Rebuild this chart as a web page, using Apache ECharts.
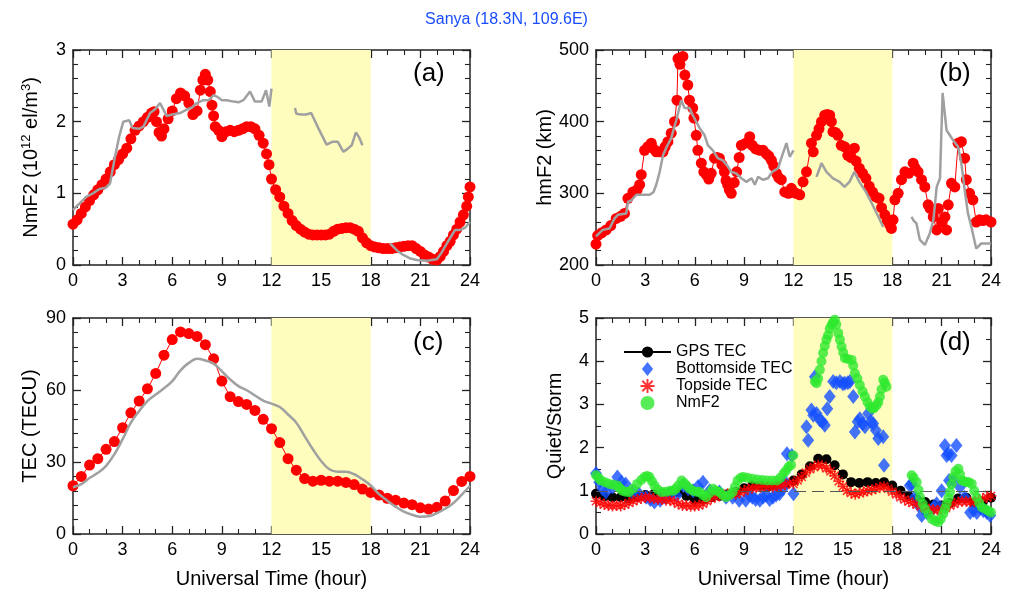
<!DOCTYPE html>
<html><head><meta charset="utf-8">
<script src="https://cdn.jsdelivr.net/npm/echarts@6/dist/echarts.min.js"></script>
<style>html,body{margin:0;padding:0;background:#fff}#c{width:1013px;height:594px}</style>
</head><body><div id="c"></div>
<script>
// ---------- DATA ----------
const titleText = 'Sanya (18.3N, 109.6E)';
const xAxisTitle = 'Universal Time (hour)';
const panelLabels = ['(a)', '(b)', '(c)', '(d)'];
const legendNames = ['GPS TEC', 'Bottomside TEC', 'Topside TEC', 'NmF2'];

// (a) NmF2, storm day (red dots) [hour, 1e12 el/m3]
const stormNmF2 = [[0,0.57],[0.25,0.63],[0.5,0.72],[0.75,0.81],[1,0.9],[1.25,0.98],[1.5,1.05],[1.75,1.12],[2,1.2],[2.25,1.3],[2.5,1.4],[2.75,1.47],[3,1.55],[3.25,1.63],[3.5,1.76],[3.75,1.88],[4,1.94],[4.25,2.0],[4.5,2.06],[4.75,2.12],[4.9,2.14],[5.05,2.0],[5.2,1.85],[5.35,1.8],[5.5,1.9],[5.75,2.04],[6,2.15],[6.25,2.32],[6.5,2.4],[6.75,2.36],[7,2.26],[7.25,2.1],[7.5,2.15],[7.7,2.44],[7.85,2.58],[8,2.66],[8.15,2.58],[8.3,2.42],[8.4,2.23],[8.5,2.08],[8.6,1.93],[8.8,1.88],[9,1.79],[9.25,1.86],[9.5,1.88],[9.75,1.86],[10,1.88],[10.25,1.9],[10.5,1.93],[10.75,1.93],[11,1.9],[11.25,1.81],[11.5,1.7],[11.7,1.55],[11.85,1.4],[12,1.2],[12.25,1.05],[12.5,0.95],[12.75,0.82],[13,0.72],[13.25,0.62],[13.5,0.55],[13.75,0.5],[14,0.46],[14.25,0.43],[14.5,0.42],[14.75,0.42],[15,0.42],[15.25,0.42],[15.5,0.43],[15.75,0.47],[16,0.5],[16.25,0.51],[16.5,0.52],[16.75,0.52],[17,0.5],[17.25,0.47],[17.5,0.38],[17.75,0.31],[18,0.27],[18.25,0.25],[18.5,0.24],[18.75,0.23],[19,0.23],[19.25,0.23],[19.5,0.24],[19.75,0.25],[20,0.26],[20.25,0.27],[20.5,0.27],[20.75,0.23],[21,0.19],[21.25,0.14],[21.5,0.11],[21.75,0.08],[22,0.07],[22.2,0.12],[22.4,0.19],[22.6,0.27],[22.8,0.33],[23,0.42],[23.2,0.5],[23.4,0.6],[23.6,0.7],[23.8,0.82],[23.9,0.95],[24,1.09]];
// (a) NmF2, quiet reference (grey line); null = data gap
const quietNmF2 = [[0,0.77],[0.4,0.86],[0.8,0.95],[1.2,1.0],[1.6,1.06],[2,1.08],[2.24,1.14],[2.54,1.51],[2.8,1.8],[3.04,2.0],[3.4,2.02],[3.6,1.91],[4,1.9],[4.25,1.93],[4.66,2.12],[5,2.18],[5.26,2.26],[5.66,2.08],[6,2.1],[6.47,2.12],[6.9,2.17],[7.2,2.2],[7.48,2.26],[7.88,2.3],[8.2,2.3],[8.5,2.37],[8.69,2.35],[9,2.3],[9.3,2.3],[9.7,2.28],[10,2.27],[10.3,2.3],[10.7,2.42],[11,2.28],[11.4,2.28],[11.67,2.44],[11.87,2.21],[12,2.46],null,[13.42,2.19],[13.5,2.11],[13.8,2.1],[14.1,2.1],[14.4,2.12],[14.83,1.91],[15.33,1.68],[15.7,1.72],[16,1.72],[16.35,1.58],[16.6,1.62],[16.85,1.67],[17.1,1.85],[17.3,1.78],[17.5,1.67],null,[19.17,0.3],[19.6,0.2],[19.97,0.14],[20.4,0.09],[20.78,0.07],[21.4,0.06],[22,0.08],[22.3,0.18],[22.6,0.3],[23.1,0.49],[23.4,0.49],[23.7,0.52],[24,0.6]];

// (b) hmF2 storm (red) [hour, km]
const stormHmF2 = [[0,229],[0.1,241],[0.35,245],[0.62,249],[0.9,255],[1.23,265],[1.5,268],[1.73,272],[1.94,293],[2.24,302],[2.5,305],[2.65,312],[2.75,326],[2.95,360],[3.15,365],[3.36,370],[3.5,362],[3.66,358],[3.85,358],[4.07,358],[4.2,365],[4.37,372],[4.57,384],[4.77,400],[4.92,430],[4.98,488],[5.1,480],[5.28,491],[5.4,465],[5.58,451],[5.68,430],[5.88,419],[5.95,405],[6.09,381],[6.19,360],[6.4,342],[6.55,330],[6.7,326],[6.85,320],[7.0,328],[7.2,349],[7.35,350],[7.5,349],[7.65,340],[7.8,330],[7.9,318],[8.0,312],[8.1,305],[8.22,300],[8.4,315],[8.55,330],[8.7,350],[8.83,367],[9.1,370],[9.34,379],[9.5,367],[9.7,362],[9.95,360],[10.15,360],[10.35,355],[10.5,352],[10.66,346],[10.8,338],[10.96,328],[11.1,322],[11.26,319],[11.47,302],[11.7,300],[11.87,307],[12.0,302],[12.15,300],[12.38,298],[12.58,316],[12.79,330],[13.09,370],[13.2,358],[13.4,381],[13.55,390],[13.7,400],[13.9,409],[14.05,410],[14.2,409],[14.3,400],[14.4,386],[14.55,385],[14.7,381],[14.9,367],[15.1,365],[15.3,353],[15.5,350],[15.7,363],[15.8,345],[16.0,335],[16.2,328],[16.4,321],[16.6,310],[16.8,302],[17.0,295],[17.2,293],[17.35,280],[17.55,270],[17.7,262],[17.85,256],[17.95,251],[18.05,263],[18.16,291],[18.36,300],[18.56,319],[18.77,330],[19.0,328],[19.27,342],[19.4,335],[19.57,330],[19.78,319],[19.98,309],[20.18,284],[20.3,279],[20.49,267],[20.7,249],[20.8,279],[21.0,260],[21.2,267],[21.3,249],[21.4,284],[21.6,314],[21.8,309],[22.0,370],[22.2,372],[22.4,349],[22.5,319],[22.7,300],[22.9,291],[23.1,260],[23.3,263],[23.5,262],[23.7,263],[24.0,260]];
// (b) hmF2 quiet (grey)
const quietHmF2 = [[0,240],[0.41,249],[0.82,251],[1.13,265],[1.33,270],[1.84,272],[1.94,288],[2.14,290],[2.45,298],[2.75,298],[3.26,298],[3.5,302],[3.66,312],[3.87,330],[4.07,353],[4.3,365],[4.57,377],[4.88,402],[5.18,430],[5.38,419],[5.68,419],[5.88,409],[6.0,407],[6.3,391],[6.6,381],[6.8,367],[7.1,360],[7.4,349],[7.7,346],[8.0,338],[8.22,330],[8.5,328],[8.83,321],[9.14,316],[9.45,321],[9.65,312],[9.85,323],[10.15,319],[10.45,321],[10.71,330],[11.06,335],[11.26,349],[11.57,370],[11.77,351],[12.0,360],null,[13.4,323],[13.7,342],[14.0,330],[14.4,321],[14.8,316],[15.1,309],[15.4,316],[15.7,330],[16.0,316],[16.4,302],[16.8,284],[17.1,270],[17.45,253],null,[19.17,267],[19.3,262],[19.47,258],[19.68,235],[19.98,228],[20.28,244],[20.5,263],[20.7,309],[20.9,321],[21.06,440],[21.3,388],[21.5,381],[21.7,374],[22.0,365],[22.2,342],[22.4,305],[22.6,272],[22.8,254],[23.1,223],[23.4,230],[24,230]];

// (c) TEC, half-hourly
const tecHours = [0,0.5,1,1.5,2,2.5,3,3.5,4,4.5,5,5.5,6,6.5,7,7.5,8,8.5,9,9.5,10,10.5,11,11.5,12,12.5,13,13.5,14,14.5,15,15.5,16,16.5,17,17.5,18,18.5,19,19.5,20,20.5,21,21.5,22,22.5,23,23.5,24];
const stormTEC = [20.1,24,28.7,31.4,35.3,38.5,44.3,50.5,55.4,60.5,66.9,74.5,81,84.2,83.5,82.3,78.9,73,63.7,57.2,55.2,54,51.5,47.8,43.9,38.1,31.4,26.6,23.1,22,22.4,22,22,21.5,20.6,18.7,17.3,16.2,14.9,14.1,12.9,12.2,10.9,10.4,11.1,13.7,18.1,21.9,24];
const quietTEC = [19.5,20.8,23.3,25.5,28.4,33.2,39.5,46.4,51.2,55.4,58.1,60.7,63.7,68.2,71.3,73,72.3,71,67.8,64.4,61.6,59.9,57.7,55.6,54.3,52.9,49.8,46.4,40.8,35.3,30.4,27,25.9,25.9,24.9,22.8,20.2,16.6,13.9,11.4,9.3,8,7.2,7.4,8.7,10.5,12.9,16.4,20.1];

// (d) Quiet/Storm ratios
const ratioGPS = [0.93,0.87,0.85,0.85,0.83,0.86,0.9,0.92,0.93,0.95,0.97,0.88,0.79,0.8,0.85,0.88,0.92,0.97,1.06,1.12,1.12,1.1,1.12,1.16,1.24,1.38,1.57,1.74,1.73,1.59,1.38,1.2,1.18,1.2,1.18,1.2,1.12,1.0,0.88,0.8,0.74,0.68,0.66,0.72,0.82,0.84,0.72,0.74,0.84];
const topHours = [0,0.25,0.5,0.75,1,1.25,1.5,1.75,2,2.25,2.5,2.75,3,3.25,3.5,3.75,4,4.25,4.5,4.75,5,5.25,5.5,5.75,6,6.25,6.5,6.75,7,7.25,7.5,7.75,8,8.25,8.5,8.75,9,9.25,9.5,9.75,10,10.25,10.5,10.75,11,11.25,11.5,11.75,12,12.25,12.5,12.75,13,13.25,13.5,13.75,14,14.25,14.5,14.75,15,15.25,15.5,15.75,16,16.25,16.5,16.75,17,17.25,17.5,17.75,18,18.25,18.5,18.75,19,19.25,19.5,19.75,20,20.25,20.5,20.75,21,21.25,21.5,21.75,22,22.25,22.5,22.75,23,23.25,23.5,23.75,24];
const ratioTop = [0.76,0.72,0.68,0.66,0.65,0.66,0.65,0.68,0.72,0.76,0.8,0.82,0.85,0.84,0.82,0.8,0.8,0.78,0.78,0.75,0.7,0.66,0.66,0.64,0.65,0.66,0.7,0.76,0.82,0.86,0.88,0.9,0.93,0.93,0.92,0.96,1.0,1.04,1.06,1.08,1.08,1.1,1.1,1.08,1.1,1.12,1.14,1.18,1.16,1.24,1.32,1.42,1.5,1.55,1.6,1.58,1.52,1.45,1.35,1.22,1.1,1.0,0.95,0.92,0.95,0.97,1.0,1.02,1.05,1.08,1.1,1.05,0.98,0.92,0.85,0.8,0.75,0.72,0.68,0.64,0.6,0.58,0.56,0.55,0.56,0.6,0.66,0.7,0.74,0.76,0.75,0.74,0.75,0.78,0.82,0.85,0.88];
const ratioBottom = [[0,1.4],[0.2,1.2],[0.4,1.05],[0.6,0.97],[1.0,1.09],[1.3,1.32],[1.55,1.2],[1.8,1.16],[2.2,0.97],[2.6,0.93],[3.05,0.85],[3.3,0.8],[3.55,0.74],[3.9,0.78],[4.2,0.85],[4.5,0.93],[4.9,0.89],[5.3,1.12],[5.6,1.05],[5.9,1.0],[6.2,1.1],[6.5,1.2],[6.9,1.0],[7.2,0.95],[7.5,0.97],[7.9,0.85],[8.3,0.85],[8.7,0.78],[9.1,0.78],[9.3,0.9],[9.5,0.85],[9.7,0.8],[9.95,0.78],[10.15,0.85],[10.35,0.89],[10.55,0.8],[10.75,0.85],[10.95,0.9],[11.15,0.93],[11.35,1.05],[11.5,1.2],[11.6,1.86],[11.9,1.82],[12.0,0.93],[12.79,2.48],[12.89,2.17],[13.09,2.87],[13.2,2.75],[13.3,3.64],[13.4,2.79],[13.6,2.64],[13.75,2.6],[13.9,2.52],[14.05,2.9],[14.2,3.18],[14.41,3.53],[14.6,3.5],[14.82,3.53],[15.0,3.48],[15.12,3.49],[15.3,3.5],[15.43,3.53],[15.63,3.18],[15.73,2.36],[15.9,2.6],[16.03,2.67],[16.2,2.55],[16.34,2.48],[16.54,2.79],[16.7,2.6],[16.84,2.56],[17.0,2.4],[17.15,2.21],[17.45,2.25],[17.5,1.59],[19.07,1.12],[19.18,1.16],[19.38,0.85],[19.6,0.66],[19.79,0.43],[20.09,0.5],[20.29,0.54],[20.5,0.6],[20.7,0.7],[21.0,1.0],[21.2,2.05],[21.3,1.82],[21.41,1.86],[21.45,1.24],[21.6,1.82],[21.7,1.24],[21.9,2.05],[22.12,1.09],[22.4,0.85],[22.73,0.5],[22.95,0.55],[23.14,0.5],[23.35,0.6],[23.54,0.54],[23.75,0.5],[23.95,0.43]];
const ratioNmF2 = [[0,1.36],[0.15,1.3],[0.3,1.24],[0.55,1.2],[0.8,1.16],[1.05,1.14],[1.3,1.12],[1.45,1.06],[1.6,1.0],[1.8,0.98],[2.0,0.97],[2.25,1.05],[2.5,1.16],[2.75,1.25],[2.95,1.32],[3.1,1.34],[3.25,1.32],[3.4,1.22],[3.55,1.12],[3.75,1.03],[4.0,0.97],[4.25,0.98],[4.5,1.0],[4.7,1.0],[4.85,1.05],[5.0,1.12],[5.2,1.24],[5.35,1.18],[5.5,1.12],[5.7,1.05],[5.9,1.0],[6.1,0.98],[6.3,0.97],[6.5,0.9],[6.7,0.85],[6.9,0.95],[7.1,1.05],[7.3,1.0],[7.5,0.97],[7.7,0.9],[7.9,0.85],[8.1,0.9],[8.3,0.97],[8.45,1.1],[8.6,1.24],[8.8,1.3],[8.95,1.32],[9.2,1.3],[9.5,1.28],[9.8,1.26],[10.1,1.25],[10.4,1.24],[10.7,1.24],[11.0,1.24],[11.2,1.3],[11.4,1.4],[11.55,1.47],[11.7,1.55],[11.85,1.6],[11.98,1.82],[13.3,3.53],[13.4,3.49],[13.5,3.6],[13.6,3.8],[13.7,4.0],[13.8,4.19],[13.9,4.35],[14.0,4.5],[14.1,4.6],[14.2,4.75],[14.31,4.84],[14.4,4.9],[14.51,4.96],[14.6,4.85],[14.72,4.65],[14.82,4.5],[14.92,4.34],[15.02,4.2],[15.12,4.07],[15.3,4.05],[15.53,4.03],[15.63,3.9],[15.73,3.72],[15.88,3.6],[16.03,3.45],[16.2,3.3],[16.34,3.18],[16.5,3.05],[16.64,2.95],[16.8,2.9],[16.9,2.92],[17.05,2.98],[17.15,3.05],[17.25,3.18],[17.35,3.35],[17.45,3.57],[17.55,3.5],[17.65,3.41],[19.18,1.36],[19.3,1.3],[19.48,1.2],[19.6,1.02],[19.69,0.85],[19.85,0.7],[19.99,0.58],[20.2,0.45],[20.4,0.35],[20.6,0.3],[20.8,0.27],[20.95,0.35],[21.1,0.47],[21.2,0.58],[21.31,0.7],[21.41,0.83],[21.51,0.97],[21.61,1.15],[21.71,1.32],[21.85,1.45],[22.02,1.51],[22.12,1.38],[22.22,1.24],[22.35,1.22],[22.52,1.2],[22.65,1.2],[22.83,1.16],[22.98,1.0],[23.13,0.85],[23.28,0.72],[23.44,0.62],[23.64,0.58],[23.84,0.54],[24,0.5]];

// axis ranges [min, max, interval, minor splits]
const yRanges = [[0,3,1,5],[200,500,100,5],[0,90,30,5],[0,5,1,2]];
const stormWindow = [12, 18];

// ---------- CHART ----------
const FONT = '"Liberation Sans", Arial, Helvetica, sans-serif';
const RED = '#ff0000', GREY = '#a0a0a0', BLUE = '#1450ff', GREEN = '#2ee82e';
const ASTERISK = 'path://M8.6 0L11.4 0L11.4 20L8.6 20Z M0 8.6L20 8.6L20 11.4L0 11.4Z M1.6 3.6L3.6 1.6L18.4 16.4L16.4 18.4Z M16.4 1.6L18.4 3.6L3.6 18.4L1.6 16.4Z';
const DIAMOND = 'path://M6 0L12 7.5L6 15L0 7.5Z';

const grids = [
  {left:73, top:50, width:397, height:215},
  {left:596, top:50, width:395, height:215},
  {left:73, top:318, width:397, height:216},
  {left:596, top:318, width:395, height:216}
];
const axisColor = '#222';
function xAx(g, pos, label){
  return {type:'value', gridIndex:g, position:pos, min:0, max:24, interval:3,
    splitLine:{show:false},
    axisLine:{onZero:false, lineStyle:{color:axisColor, width:1.5}},
    axisTick:{inside:true, length:8, lineStyle:{color:axisColor, width:1.3}},
    minorTick:{show:true, splitNumber:3, length:5, lineStyle:{color:axisColor, width:1.1}},
    axisLabel:{show:label, fontSize:18, color:'#000', fontFamily:FONT, margin:7},
    name: (label && g>=2) ? xAxisTitle : '', nameLocation:'middle', nameGap:35,
    nameTextStyle:{fontSize:20, color:'#000', fontFamily:FONT}};
}
const yNames = ['NmF2 (10{s|12} el/m{s|3})', 'hmF2 (km)', 'TEC (TECU)', 'Quiet/Storm'];
const yGaps = [30, 38, 33, 31];
function yAx(g, pos, label){
  const r = yRanges[g];
  return {type:'value', gridIndex:g, position:pos, min:r[0], max:r[1], interval:r[2],
    splitLine:{show:false},
    axisLine:{onZero:false, lineStyle:{color:axisColor, width:1.5}},
    axisTick:{inside:true, length:8, lineStyle:{color:axisColor, width:1.3}},
    minorTick:{show:true, splitNumber:r[3], length:5, lineStyle:{color:axisColor, width:1.1}},
    axisLabel:{show:label, fontSize:18, color:'#000', fontFamily:FONT, margin:7},
    name: label ? yNames[g] : '', nameLocation:'middle', nameGap:yGaps[g], nameRotate:90,
    nameTextStyle:{fontSize:20, color:'#000', fontFamily:FONT,
      rich:{s:{fontSize:13, fontFamily:FONT, color:'#000', padding:[0,0,10,0]}}}};
}
const xAxis = [], yAxis = [];
for (let g=0; g<4; g++){
  xAxis.push(xAx(g,'bottom',true)); xAxis.push(xAx(g,'top',false));
  yAxis.push(yAx(g,'left',true)); yAxis.push(yAx(g,'right',false));
}

function segments(arr){
  const out=[]; let cur=[];
  arr.forEach(p=>{ if(p===null){ if(cur.length) out.push(cur); cur=[]; } else cur.push(p); });
  if(cur.length) out.push(cur);
  return out;
}
const series = [];
// yellow storm window
for (let g=0; g<4; g++){
  series.push({type:'line', xAxisIndex:2*g, yAxisIndex:2*g, data:[[stormWindow[0], yRanges[g][0]]],
    symbol:'none', silent:true, z:0, lineStyle:{opacity:0},
    markArea:{silent:true, itemStyle:{color:'#fffdbe'}, data:[[{xAxis:stormWindow[0]},{xAxis:stormWindow[1]}]]}});
}
function greyLine(g, arr, smooth){
  segments(arr).forEach(seg=>{
    series.push({type:'line', xAxisIndex:2*g, yAxisIndex:2*g, data:seg, symbol:'none', smooth:smooth||false,
      z:4, silent:true, lineStyle:{color:GREY, width:2.5}});
  });
}
function redDots(g, arr, size){
  series.push({type:'line', xAxisIndex:2*g, yAxisIndex:2*g, data:arr, symbol:'circle', symbolSize:size,
    showAllSymbol:true, z:3, silent:true, lineStyle:{color:RED, width:1}, itemStyle:{color:RED}});
}
redDots(0, stormNmF2, 11);
greyLine(0, quietNmF2);
redDots(1, stormHmF2, 11);
greyLine(1, quietHmF2);
redDots(2, tecHours.map((h,i)=>[h, stormTEC[i]]), 11);
greyLine(2, tecHours.map((h,i)=>[h, quietTEC[i]]), 0.4);

// panel d
series.push({name:legendNames[0], type:'line', xAxisIndex:6, yAxisIndex:6,
  data: tecHours.map((h,i)=>[h, ratioGPS[i]]), symbol:'circle', symbolSize:10, showAllSymbol:true,
  z:2, silent:true, lineStyle:{color:'#000', width:1}, itemStyle:{color:'#000'}});
series.push({name:legendNames[1], type:'scatter', xAxisIndex:6, yAxisIndex:6, data:ratioBottom,
  symbol:DIAMOND, symbolSize:[12,15], z:3, silent:true, itemStyle:{color:BLUE}});
series.push({name:legendNames[2], type:'scatter', xAxisIndex:6, yAxisIndex:6,
  data: topHours.map((h,i)=>[h, ratioTop[i]]), symbol:ASTERISK, symbolSize:11, z:4, silent:true, itemStyle:{color:RED}});
series.push({name:legendNames[3], type:'scatter', xAxisIndex:6, yAxisIndex:6, data:ratioNmF2,
  symbol:'circle', symbolSize:10, z:5, silent:true, itemStyle:{color:GREEN}});
series.push({type:'line', xAxisIndex:6, yAxisIndex:6, data:[[0,1]], symbol:'none', silent:true, z:8,
  lineStyle:{opacity:0},
  markLine:{silent:true, symbol:'none', label:{show:false}, lineStyle:{color:'#555', type:[12,6], width:1.2},
    data:[{yAxis:1}]}});

const labelPos = [[432,76],[958,76],[432,345],[958,345]];
const graphic = panelLabels.map((t,i)=>({type:'text', left:labelPos[i][0]-19, top:labelPos[i][1]-15,
  style:{text:t, font:'26px '+FONT, fill:'#000'}}));

const chart = echarts.init(document.getElementById('c'), null, {renderer:'canvas'});
chart.setOption({
  animation:false,
  backgroundColor:'#fff',
  textStyle:{fontFamily:FONT},
  title:{text:titleText, left:'center', top:7, textStyle:{color:'#1a4dff', fontSize:16, fontWeight:'normal', fontFamily:FONT}},
  grid: grids,
  xAxis, yAxis, series, graphic,
  legend:{orient:'vertical', left:623, top:344, padding:0, itemWidth:47, itemHeight:14, itemGap:1,
    selectedMode:false, symbolKeepAspect:true,
    data:[{name:legendNames[0]},{name:legendNames[1], icon:DIAMOND},{name:legendNames[2], icon:ASTERISK},{name:legendNames[3], icon:'circle'}],
    textStyle:{fontSize:16, lineHeight:16, color:'#000', fontFamily:FONT}}
});
</script></body></html>
